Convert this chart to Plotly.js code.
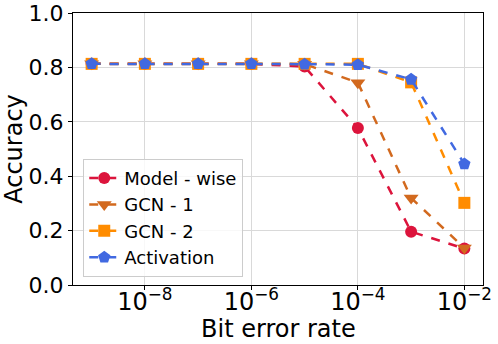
<!DOCTYPE html>
<html>
<head>
<meta charset="utf-8">
<script src="https://cdn.plot.ly/plotly-3.0.1.min.js"></script>
<style>
  html, body { margin: 0; padding: 0; background: #fff; }
  #chart { width: 498px; height: 344px; }
</style>
</head>
<body>
<div id="chart"></div>
<script>
const berValues = [1e-9, 1e-8, 1e-7, 1e-6, 1e-5, 1e-4, 1e-3, 1e-2];
const modelWise = [0.813, 0.813, 0.813, 0.813, 0.803, 0.577, 0.196, 0.134];
const gcn1 = [0.813, 0.813, 0.813, 0.813, 0.812, 0.744, 0.320, 0.136];
const gcn2 = [0.813, 0.813, 0.813, 0.813, 0.813, 0.813, 0.745, 0.302];
const activation = [0.813, 0.813, 0.813, 0.813, 0.812, 0.810, 0.756, 0.445];
const xTickVals = [1e-8, 1e-6, 1e-4, 1e-2];
const xTickText = ["10<sup>−8</sup>", "10<sup>−6</sup>", "10<sup>−4</sup>", "10<sup>−2</sup>"];

const series = [
  { name: "Model - wise", y: modelWise, color: "#DC143C", symbol: "circle", size: 12 },
  { name: "GCN - 1", y: gcn1, color: "#D2691E", symbol: "triangle-down", size: 13 },
  { name: "GCN - 2", y: gcn2, color: "#FF8C00", symbol: "square", size: 12 },
  { name: "Activation", y: activation, color: "#4169E1", symbol: "pentagon", size: 13 },
];

const traces = series.map((s) => ({
  x: berValues,
  y: s.y,
  type: "scatter",
  mode: "lines+markers",
  name: s.name,
  line: { color: s.color, width: 2.5, dash: "dash" },
  marker: { color: s.color, symbol: s.symbol, size: s.size },
}));

const font = { family: '"DejaVu Sans", sans-serif', color: "#000" };

const layout = {
  width: 498,
  height: 344,
  paper_bgcolor: "#fff",
  plot_bgcolor: "#fff",
  font: { ...font, size: 22 },
  margin: { l: 73, r: 15, t: 13, b: 59 },
  showlegend: true,
  xaxis: {
    type: "log",
    range: [-9.35, -1.65],
    tickvals: xTickVals,
    ticktext: xTickText,
    tickfont: { ...font, size: 24 },
    ticklabelstandoff: -9,
    ticks: "outside",
    ticklen: 4,
    tickcolor: "#000",
    showline: true,
    linecolor: "#000",
    linewidth: 1,
    mirror: true,
    showgrid: true,
    gridcolor: "#d9d9d9",
    zeroline: false,
  },
  yaxis: {
    range: [0, 1],
    dtick: 0.2,
    tickformat: ".1f",
    tickfont: { ...font, size: 22 },
    ticks: "outside",
    ticklen: 4,
    tickcolor: "#000",
    showline: true,
    linecolor: "#000",
    linewidth: 1,
    mirror: true,
    showgrid: true,
    gridcolor: "#d9d9d9",
    zeroline: false,
    title: { text: "Accuracy", font: { ...font, size: 24 }, standoff: 4 },
  },
  annotations: [
    {
      text: "Bit error rate",
      xref: "paper",
      yref: "paper",
      x: 0.5,
      y: -0.162,
      xanchor: "center",
      yanchor: "middle",
      showarrow: false,
      font: { ...font, size: 24 },
    },
  ],
  legend: {
    x: 0.025,
    y: 0.03,
    xanchor: "left",
    yanchor: "bottom",
    bgcolor: "rgba(255,255,255,0.8)",
    bordercolor: "#cccccc",
    borderwidth: 1,
    font: { ...font, size: 18 },
    tracegroupgap: 0,
    entrywidth: 170,
  },
};

Plotly.newPlot("chart", traces, layout, { displayModeBar: false, staticPlot: true });
</script>
</body>
</html>
